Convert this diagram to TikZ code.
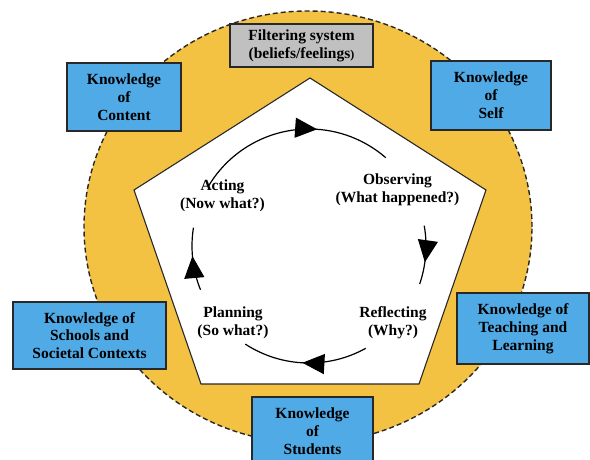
\documentclass[tikz,border=0pt]{standalone}
\usepackage{fontspec}
\setmainfont{Liberation Serif}
\usetikzlibrary{arrows.meta,decorations.markings}
\definecolor{ringyellow}{RGB}{244,194,67}
\definecolor{boxblue}{RGB}{80,170,230}
\definecolor{boxgray}{RGB}{192,192,192}
\definecolor{edgedark}{RGB}{40,40,40}
\tikzset{
  lbl/.style={font=\fontsize{15.5}{17.8}\selectfont\bfseries, align=center, inner sep=0pt},
  kbox/.style={draw=edgedark, line width=1.1pt, fill=boxblue},
  gbox/.style={draw=edgedark, line width=1.1pt, fill=boxgray},
  cyc/.style={line width=1.2pt, black},
  midarrow/.style={postaction={decorate}, decoration={markings,
      mark=at position #1 with {\arrow{Triangle[length=22pt,width=20pt]}}}}
}
\begin{document}
\begin{tikzpicture}[x=1pt,y=1pt]
\useasboundingbox (0,0) rectangle (590,460);
\clip (0,0) rectangle (590,460);
\fill[white] (0,0) rectangle (590,460);
% ring
\coordinate (rc) at (308,233);
\draw[fill=ringyellow, draw=edgedark, line width=1.4pt, dash pattern=on 5pt off 3pt]
  (rc) ellipse [x radius=224, y radius=216];
% pentagon
\coordinate (pt) at (310,382);
\coordinate (pur) at (486,270);
\coordinate (pbr) at (419,76);
\coordinate (pbl) at (201,76);
\coordinate (pul) at (134,270);
\draw[fill=white, draw=edgedark, line width=1.1pt] (pt) -- (pur) -- (pbr) -- (pbl) -- (pul) -- cycle;
% boxes
\draw[gbox] (230,393) rectangle (373,436);
\node[lbl] (filter) at (301.5,414.5) {Filtering system\\(beliefs/feelings{\fontsize{12}{14}\selectfont)}};
\draw[kbox] (67,329) rectangle (181,397);
\node[lbl] (content) at (124,363) {Knowledge\\of\\Content};
\draw[kbox] (431,330) rectangle (551,399);
\node[lbl] (self) at (491,364.5) {Knowledge\\of\\Self};
\draw[kbox] (13,91) rectangle (166,158);
\node[lbl] (schools) at (89.5,124.5) {Knowledge of\\Schools and\\Societal Contexts};
\draw[kbox] (457,96) rectangle (589,167);
\node[lbl] (teaching) at (523,131.5) {Knowledge of\\Teaching and\\Learning};
\draw[kbox] (252,-10) rectangle (373,63);
\node[lbl] (students) at (312.5,29) {Knowledge\\of\\Students};
% cycle labels
\node[lbl] (acting) at (222.5,264.5) {Acting\\(Now what?)};
\node[lbl] (observing) at (397.5,270) {Observing\\(What happened?)};
\node[lbl] (reflecting) at (393,137) {Reflecting\\(Why?)};
\node[lbl] (planning) at (233,137) {Planning\\(So what?)};
% cycle arcs
\coordinate (cc) at (309,214);
\draw[cyc, midarrow=0.63] (cc) ++(149:117) arc[start angle=149, end angle=49, radius=117];
\draw[cyc, midarrow=0.62] (cc) ++(10:117) arc[start angle=10, end angle=-19, radius=117];
\draw[cyc, midarrow=0.52] (cc) ++(-61:117) arc[start angle=-61, end angle=-123, radius=117];
\draw[cyc, midarrow=0.55] (cc) ++(202:117) arc[start angle=202, end angle=171, radius=117];
\end{tikzpicture}
\end{document}
